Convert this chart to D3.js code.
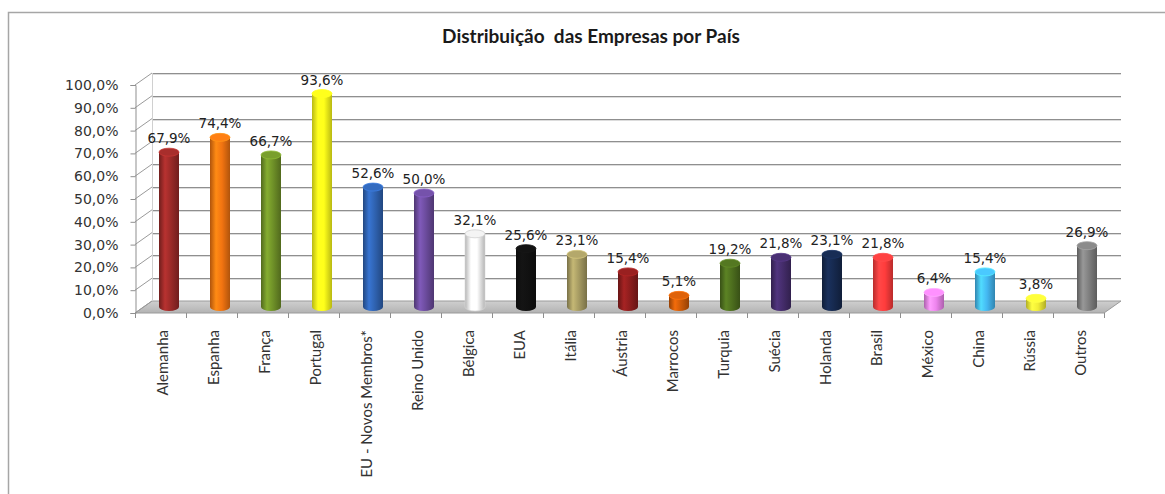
<!DOCTYPE html>
<html>
<head>
<meta charset="utf-8">
<script src="https://cdn.jsdelivr.net/npm/d3@7"></script>
<style>
  html, body { margin: 0; padding: 0; background: #fff; }
  svg { display: block; }
</style>
</head>
<body>
<div id="chart"></div>
<script>
// --- Data ---
const categories = ['Alemanha', 'Espanha', 'França', 'Portugal', 'EU - Novos Membros*', 'Reino Unido',
    'Bélgica', 'EUA', 'Itália', 'Áustria', 'Marrocos', 'Turquia', 'Suécia', 'Holanda', 'Brasil',
    'México', 'China', 'Rússia', 'Outros'];
const values = [67.9, 74.4, 66.7, 93.6, 52.6, 50.0, 32.1, 25.6, 23.1, 15.4, 5.1, 19.2, 21.8, 23.1, 21.8,
    6.4, 15.4, 3.8, 26.9];
const barColors = ['#9a2a28', '#f27411', '#6f9128', '#ffff1a', '#2f62b0', '#6b4b9c', '#ffffff', '#111111',
    '#a59a62', '#8c1d1d', '#cc5a08', '#4d6e1e', '#442c6a', '#16294e', '#ff3c3c', '#ee85ee', '#44b8f2',
    '#f2ee36', '#7f7f7f'];
const yTickValues = [0, 10, 20, 30, 40, 50, 60, 70, 80, 90, 100];

const title = 'Distribuição  das Empresas por País';

// --- Layout ---
const width = 1165, height = 494;
const depth = { dx: 17, dy: -12 };   // back wall offset
const barW = 20, ry = 4;

const svg = d3.select('#chart').append('svg')
    .attr('width', width)
    .attr('height', height);

const defs = svg.append('defs');

const x = d3.scaleBand().domain(categories).range([135, 1104]).padding(0);
const y = d3.scaleLinear().domain([0, 100]).range([313, 85]);
const fmt = v => d3.format('.1f')(v).replace('.', ',') + '%';

// outer frame
svg.append('rect')
    .attr('x', 8.5).attr('y', 12.5)
    .attr('width', 1200).attr('height', 520)
    .attr('fill', '#fff')
    .attr('stroke', '#a6a6a6')
    .attr('stroke-width', 1.5);

// title
svg.append('text')
    .attr('x', 591).attr('y', 43)
    .attr('text-anchor', 'middle')
    .style('font-family', 'Lato, "Open Sans", sans-serif')
    .style('font-weight', 'bold')
    .style('font-size', '19px')
    .style('white-space', 'pre')
    .attr('fill', '#1a1a1a')
    .text(title);

// --- Floor ---
const floorGrad = defs.append('linearGradient')
    .attr('id', 'floor').attr('x1', 0).attr('y1', 0).attr('x2', 0).attr('y2', 1);
floorGrad.append('stop').attr('offset', '0%').attr('stop-color', '#cfcfcf');
floorGrad.append('stop').attr('offset', '100%').attr('stop-color', '#b3b3b3');

const x0 = x.range()[0], x1 = x.range()[1], yb = y(0);
svg.append('path')
    .attr('d', `M${x0},${yb}L${x1},${yb}L${x1 + depth.dx},${yb + depth.dy}L${x0 + depth.dx},${yb + depth.dy}Z`)
    .attr('fill', 'url(#floor)')
    .attr('stroke', '#9a9a9a')
    .attr('stroke-width', 1);

// --- Back wall gridlines + left wall diagonals ---
const grid = svg.append('g');
yTickValues.filter(v => v > 0).forEach(v => {
    const yy = Math.round(y(v) + depth.dy) + 0.5;
    grid.append('line')
        .attr('x1', x0 + depth.dx).attr('x2', x1 + depth.dx)
        .attr('y1', yy + 1).attr('y2', yy + 1)
        .attr('stroke', '#dcdcdc');
    grid.append('line')
        .attr('x1', x0 + depth.dx).attr('x2', x1 + depth.dx)
        .attr('y1', yy).attr('y2', yy)
        .attr('stroke', '#8f8f8f');
});
yTickValues.forEach(v => {
    grid.append('line')
        .attr('x1', x0).attr('y1', y(v))
        .attr('x2', x0 + depth.dx).attr('y2', y(v) + depth.dy)
        .attr('stroke', '#9a9a9a');
});
grid.append('line')
    .attr('x1', x0 + depth.dx + 0.5).attr('x2', x0 + depth.dx + 0.5)
    .attr('y1', y(0) + depth.dy).attr('y2', y(100) + depth.dy)
    .attr('stroke', '#d0d0d0');

// --- Y axis (front edge) ---
const yAxis = svg.append('g').attr('transform', `translate(${x0 + 0.5},0)`)
    .call(d3.axisLeft(y).tickValues(yTickValues).tickSize(5).tickPadding(12).tickFormat(fmt));
yAxis.select('.domain').attr('stroke', '#8f8f8f');
yAxis.selectAll('.tick line').attr('stroke', '#8f8f8f');
yAxis.selectAll('text')
    .style('font-family', '"DejaVu Sans", Verdana, sans-serif')
    .style('font-size', '14px')
    .attr('fill', '#333');

// --- X axis ticks + labels ---
const xAxis = svg.append('g');
xAxis.selectAll('line.tk')
    .data(d3.range(categories.length + 1))
    .join('line')
    .attr('class', 'tk')
    .attr('x1', i => x0 + i * x.bandwidth() + 0.5)
    .attr('x2', i => x0 + i * x.bandwidth() + 0.5)
    .attr('y1', yb).attr('y2', yb + 5)
    .attr('stroke', '#8f8f8f');

xAxis.selectAll('text')
    .data(categories)
    .join('text')
    .attr('transform', d => `translate(${x(d) + x.bandwidth() / 2 + 2},${yb + 17}) rotate(-90)`)
    .attr('dy', '0.35em')
    .attr('text-anchor', 'end')
    .style('font-family', 'Lato, "Open Sans", sans-serif')
    .style('font-size', '15px')
    .attr('fill', '#333')
    .text(d => d);

// --- Cylinders ---
barColors.forEach((c, i) => {
    const base = d3.color(c);
    const g = defs.append('linearGradient')
        .attr('id', 'cyl' + i).attr('x1', 0).attr('x2', 1).attr('y1', 0).attr('y2', 0);
    const isWhite = c.toLowerCase() === '#ffffff';
    const edge = isWhite ? '#b5b5b5' : base.darker(0.9).formatHex();
    const mid = isWhite ? '#ffffff' : base.brighter(0.5).formatHex();
    g.append('stop').attr('offset', '0%').attr('stop-color', edge);
    g.append('stop').attr('offset', '30%').attr('stop-color', mid);
    g.append('stop').attr('offset', '60%').attr('stop-color', base.formatHex());
    g.append('stop').attr('offset', '100%').attr('stop-color', edge);
});

const bars = svg.append('g').selectAll('g')
    .data(categories.map((c, i) => ({ cat: c, value: values[i], i })))
    .join('g');

const cx = d => x(d.cat) + x.bandwidth() / 2 + depth.dx / 2;
const baseY = y(0) + depth.dy / 2;
const topY = d => y(d.value) + depth.dy / 2;

bars.append('path')
    .attr('d', d => {
        const l = cx(d) - barW / 2, r = cx(d) + barW / 2, t = topY(d);
        return `M${l},${t}L${l},${baseY}A${barW / 2},${ry} 0 0 0 ${r},${baseY}L${r},${t}Z`;
    })
    .attr('fill', d => `url(#cyl${d.i})`)
    .attr('stroke', d => barColors[d.i].toLowerCase() === '#ffffff' ? '#d8d8d8' : 'none')
    .attr('stroke-width', 0.6);

bars.append('ellipse')
    .attr('cx', cx)
    .attr('cy', topY)
    .attr('rx', barW / 2)
    .attr('ry', ry)
    .attr('fill', d => barColors[d.i].toLowerCase() === '#ffffff' ? '#f4f4f4' : d3.color(barColors[d.i]).brighter(0.25).formatHex())
    .attr('stroke', d => barColors[d.i].toLowerCase() === '#ffffff' ? '#d0d0d0' : d3.color(barColors[d.i]).brighter(0.7).formatHex())
    .attr('stroke-width', 0.8);

// value labels
bars.append('text')
    .attr('x', cx)
    .attr('y', d => topY(d) - ry - 5)
    .attr('text-anchor', 'middle')
    .style('font-family', '"DejaVu Sans", Verdana, sans-serif')
    .style('font-size', '13.5px')
    .attr('fill', '#222')
    .text(d => fmt(d.value));
</script>
</body>
</html>
